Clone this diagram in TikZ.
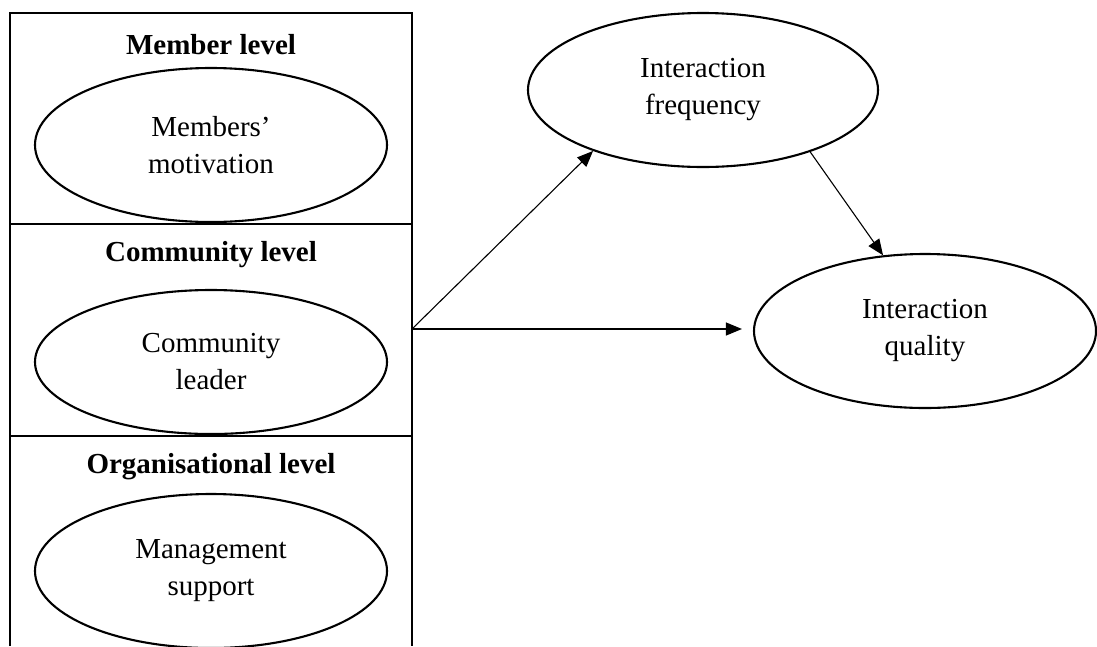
\documentclass[tikz,border=0pt]{standalone}
\usepackage{fontspec}
\setmainfont{Liberation Serif}
\usetikzlibrary{shapes.geometric,arrows.meta}
\begin{document}
\begin{tikzpicture}[x=1pt,y=-1pt,
  frame/.style={line width=2.5pt},
  construct/.style={ellipse,draw,line width=2.1pt,inner sep=0pt,align=center,
    font=\fontsize{29}{37}\selectfont},
  level/.style={font=\fontsize{29}{35}\selectfont\bfseries},
  arr/.style={line width=1.1pt,-{Triangle[length=16pt,width=13pt]}}]
\useasboundingbox (0,0) rectangle (1097,646);

% three stacked level panels, open at the bottom
\draw[frame] (10,646) -- (10,13) -- (412,13) -- (412,646);
\draw[frame] (10,224) -- (412,224);
\draw[frame] (10,436) -- (412,436);

\node[level] (lmember) at (211,45) {Member level};
\node[level] (lcomm) at (211,255) {Community level};
\node[level] (lorg) at (211,467) {Organisational level};

\node[construct,minimum width=352pt,minimum height=154pt] (motiv) at (211,145) {Members’\\motivation};
\node[construct,minimum width=352pt,minimum height=144pt] (leader) at (211,362) {Community\\leader};
\node[construct,minimum width=352pt,minimum height=154pt] (mgmt) at (211,571) {Management\\support};

% outcome constructs
\node[construct,minimum width=350pt,minimum height=154pt] (freq) at (703,90) {Interaction\\frequency};
\node[construct,minimum width=342pt,minimum height=154pt] (quality) at (925,331) {Interaction\\quality};

\coordinate (src) at (412,329);
\draw[arr] (src) -- (freq.209.8);
\draw[arr,shorten >=11pt] (src) -- (src -| quality.west);
\draw[arr] (freq.-30.5) -- (quality.119.7);
\end{tikzpicture}
\end{document}
